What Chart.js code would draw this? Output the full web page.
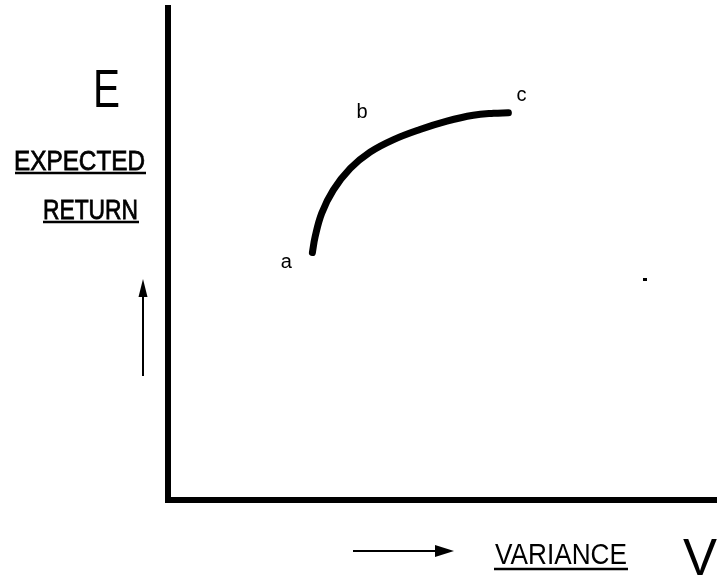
<!DOCTYPE html>
<html>
<head>
<meta charset="utf-8">
<script src="https://cdn.jsdelivr.net/npm/chart.js@4/dist/chart.umd.min.js"></script>
<style>
  html, body { margin: 0; padding: 0; background: #fff; }
  #wrap { width: 717px; height: 577px; }
</style>
</head>
<body>
<div id="wrap"><canvas id="frontier"></canvas></div>
<script>
// variance (x) and expected return (y) along the frontier, axis range 0..100
const variance = [26.3, 26.8, 28.0, 30.1, 33.2, 36.8, 41.0, 45.9, 50.8, 55.6, 59.3, 62.0];
const expectedReturn = [50.3, 53.5, 58.3, 63.0, 67.4, 70.7, 73.2, 75.3, 77.0, 78.2, 78.6, 78.7];
// labelled points on the curve: label and index into the arrays
const pointNames = ['a', 'b', 'c'];
const pointIndex = [0, 5, 11];

const FONT = '"Liberation Sans", Arial, sans-serif';

function textFit(ctx, str, x, y, w, h, underline, thick) {
    // draws text so that it spans w px wide with cap height ~h px
    ctx.save();
    ctx.font = Math.round(h / 0.72) + 'px ' + FONT;
    const mw = ctx.measureText(str).width;
    ctx.translate(x, y);
    ctx.scale(w / mw, 1);
    ctx.fillStyle = '#000';
    ctx.textBaseline = 'alphabetic';
    ctx.fillText(str, 0, 0);
    if (thick) {
        ctx.strokeStyle = '#000';
        ctx.lineWidth = thick;
        ctx.strokeText(str, 0, 0);
    }
    ctx.restore();
    if (underline) {
        ctx.save();
        ctx.strokeStyle = '#000';
        ctx.lineWidth = 2.5;
        ctx.beginPath();
        ctx.moveTo(underline[0], underline[2]);
        ctx.lineTo(underline[1], underline[2]);
        ctx.stroke();
        ctx.restore();
    }
}

const decor = {
    id: 'decor',
    afterDraw(chart) {
        const ctx = chart.ctx;
        const xs = chart.scales.x, ys = chart.scales.y;

        // axis titles
        textFit(ctx, 'E', 93, 107, 27, 38);
        textFit(ctx, 'EXPECTED', 14, 170, 131, 20, [15, 146, 173], 0.8);
        textFit(ctx, 'RETURN', 43, 219, 95, 20, [43, 139, 222], 0.8);
        textFit(ctx, 'VARIANCE', 495, 564, 132, 21, [494, 628, 569]);
        textFit(ctx, 'V', 683, 575, 34, 37);

        ctx.save();
        ctx.strokeStyle = '#000';
        ctx.fillStyle = '#000';
        ctx.lineWidth = 2;
        // up arrow
        ctx.beginPath();
        ctx.moveTo(143, 376); ctx.lineTo(143, 292); ctx.stroke();
        ctx.beginPath();
        ctx.moveTo(143, 279); ctx.lineTo(138.5, 297); ctx.lineTo(147.5, 297); ctx.closePath(); ctx.fill();
        // right arrow
        ctx.beginPath();
        ctx.moveTo(353, 551); ctx.lineTo(440, 551); ctx.stroke();
        ctx.beginPath();
        ctx.moveTo(454, 551); ctx.lineTo(435, 545); ctx.lineTo(435, 557); ctx.closePath(); ctx.fill();
        // stray dot
        ctx.fillRect(643, 278, 4, 3);

        // point labels
        ctx.font = '20px ' + FONT;
        ctx.textAlign = 'center';
        ctx.textBaseline = 'middle';
        const offs = [[-26, 10], [-8, -40], [13, -17]];
        pointNames.forEach((n, i) => {
            const k = pointIndex[i];
            const px = xs.getPixelForValue(variance[k]);
            const py = ys.getPixelForValue(expectedReturn[k]);
            ctx.fillText(n, px + offs[i][0], py + offs[i][1]);
        });
        ctx.restore();
    }
};

const ctx = document.getElementById('frontier').getContext('2d');
new Chart(ctx, {
    type: 'line',
    data: {
        datasets: [{
            data: variance.map((v, i) => ({ x: v, y: expectedReturn[i] })),
            borderColor: '#000',
            borderWidth: 7,
            borderCapStyle: 'round',
            pointRadius: 0,
            tension: 0.4,
            fill: false
        }]
    },
    options: {
        responsive: true,
        maintainAspectRatio: false,
        animation: false,
        layout: { padding: { left: 168, top: 8, right: 0, bottom: 77 } },
        scales: {
            x: {
                type: 'linear', min: 0, max: 100,
                grid: { display: false, drawTicks: false },
                ticks: { display: false },
                border: { display: true, color: '#000', width: 6 }
            },
            y: {
                min: 0, max: 100,
                grid: { display: false, drawTicks: false },
                ticks: { display: false },
                border: { display: true, color: '#000', width: 6 }
            }
        },
        plugins: { legend: { display: false }, tooltip: { enabled: false } }
    },
    plugins: [decor]
});
</script>
</body>
</html>
